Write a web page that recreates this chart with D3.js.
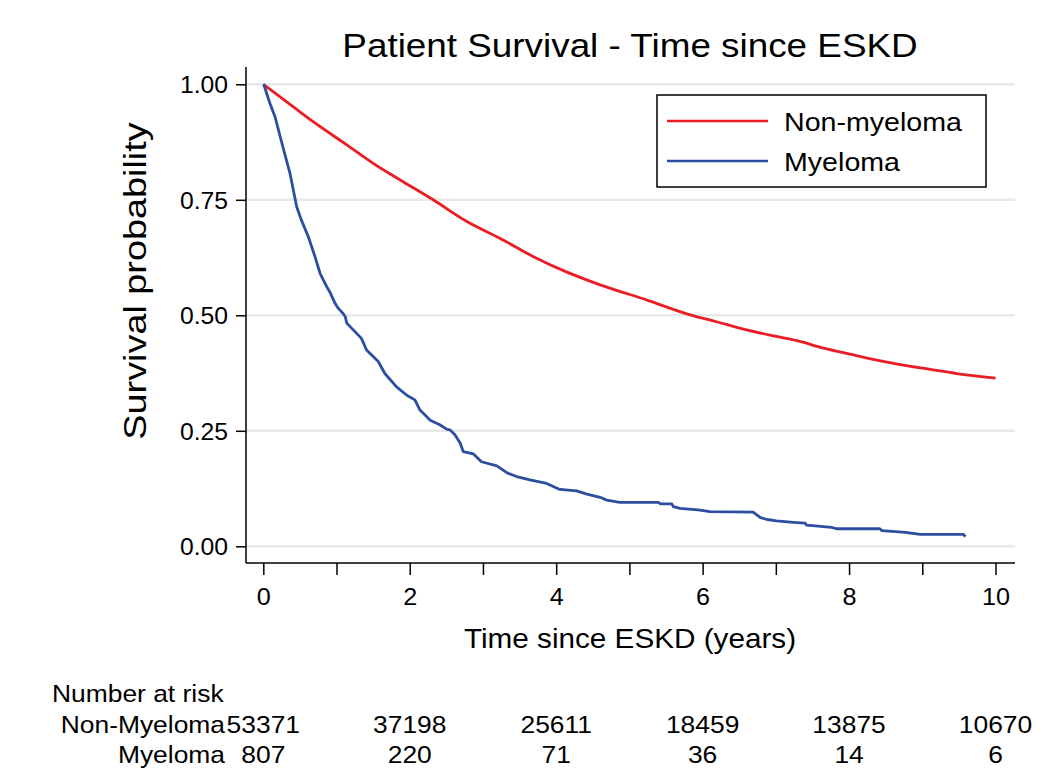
<!DOCTYPE html>
<html>
<head>
<meta charset="utf-8">
<script src="https://cdn.jsdelivr.net/npm/d3@7"></script>
<style>
  body { margin: 0; background: #fff; }
  text { font-family: "Liberation Sans", Arial, sans-serif; fill: #000; }
</style>
</head>
<body>
<div id="chart"></div>
<script>
// survival curves (years, probability)
var redTime = [0, 0.23, 0.68, 1.14, 1.50, 1.87, 2.32, 2.78, 3.23, 3.69, 4.14, 4.60, 5.24, 5.83, 6.19, 6.56, 6.92, 7.29, 7.65, 8.01, 8.38, 8.74, 9.11, 9.47, 10.0];
var redSurv = [1.0, 0.973, 0.919, 0.869, 0.829, 0.793, 0.750, 0.703, 0.667, 0.627, 0.594, 0.566, 0.533, 0.501, 0.486, 0.470, 0.457, 0.445, 0.429, 0.416, 0.403, 0.392, 0.383, 0.374, 0.364];

var blueTime = [0, 0.01, 0.09, 0.16, 0.23, 0.30, 0.365, 0.41, 0.456, 0.52, 0.615, 0.706, 0.775, 0.866, 0.91, 0.98, 1.02, 1.09, 1.12, 1.14, 1.34, 1.41, 1.57, 1.66, 1.82, 1.96, 2.07, 2.14, 2.28, 2.41, 2.51, 2.55, 2.62, 2.69, 2.73, 2.87, 2.98, 3.19, 3.33, 3.46, 3.64, 3.87, 4.05, 4.28, 4.42, 4.60, 4.69, 4.87, 5.40, 5.42, 5.58, 5.60, 5.69, 5.94, 6.10, 6.69, 6.79, 6.88, 7.01, 7.24, 7.40, 7.42, 7.54, 7.76, 7.83, 8.42, 8.45, 8.54, 8.77, 8.97, 9.56, 9.59];
var blueSurv = [1.0, 0.998, 0.959, 0.930, 0.887, 0.845, 0.807, 0.771, 0.735, 0.706, 0.670, 0.627, 0.591, 0.562, 0.550, 0.526, 0.516, 0.504, 0.497, 0.483, 0.450, 0.425, 0.400, 0.374, 0.345, 0.327, 0.317, 0.295, 0.273, 0.263, 0.253, 0.252, 0.241, 0.223, 0.205, 0.200, 0.183, 0.174, 0.159, 0.151, 0.144, 0.136, 0.123, 0.120, 0.113, 0.106, 0.100, 0.095, 0.095, 0.092, 0.092, 0.086, 0.082, 0.079, 0.075, 0.074, 0.062, 0.058, 0.055, 0.052, 0.050, 0.046, 0.044, 0.041, 0.038, 0.038, 0.034, 0.033, 0.030, 0.026, 0.026, 0.021];

var xTicks = [0, 1, 2, 3, 4, 5, 6, 7, 8, 9, 10];
var yTicks = [0, 0.25, 0.5, 0.75, 1];

var seriesNames = ["Non-myeloma", "Myeloma"];
var riskYears = [0, 2, 4, 6, 8, 10];
var riskNonMyeloma = [53371, 37198, 25611, 18459, 13875, 10670];
var riskMyeloma = [807, 220, 71, 36, 14, 6];

var width = 1052, height = 771;
var SX = 1.1; // text in the picture is a bit wider than the font
var red = "#ea1d24", blue = "#2c4ea0";

var svg = d3.select("#chart").append("svg")
    .attr("width", width)
    .attr("height", height);

var plotLeft = 246, plotRight = 1015, plotTop = 67, plotBottom = 563;

var x = d3.scaleLinear().domain([0, 10]).range([263.3, 995.5]);
var y = d3.scaleLinear().domain([0, 1]).range([546.3, 84.3]);

function label(txt, px, py, size, anchor, rot, sx) {
    return svg.append("text")
        .attr("transform", "translate(" + px + "," + py + ")" + (rot ? " rotate(" + rot + ")" : "") + " scale(" + (sx || SX) + ",1)")
        .attr("text-anchor", anchor || "start")
        .style("font-size", size + "px")
        .text(txt);
}

// gridlines
svg.append("g").selectAll("line")
    .data(yTicks)
    .enter().append("line")
    .attr("x1", plotLeft).attr("x2", plotRight)
    .attr("y1", function (d) { return y(d); })
    .attr("y2", function (d) { return y(d); })
    .style("stroke", "#e8e8e8")
    .style("stroke-width", 2.5);

// y axis
var axisY = svg.append("g")
    .attr("transform", "translate(" + plotLeft + ",0)")
    .call(d3.axisLeft(y).tickValues(yTicks).tickSize(10).tickFormat(d3.format(".2f")));
axisY.select(".domain").remove();
axisY.selectAll("line").style("stroke", "#000").style("stroke-width", 1.5);
axisY.selectAll("text")
    .attr("x", null).attr("dy", null)
    .attr("transform", "translate(-18,8.5) scale(1.03,1)")
    .style("font-size", "24px")
    .style("font-family", "Liberation Sans, Arial, sans-serif");

// x axis
var axisX = svg.append("g")
    .attr("transform", "translate(0," + plotBottom + ")")
    .call(d3.axisBottom(x).tickValues(xTicks).tickSize(12)
        .tickFormat(function (d) { return d % 2 === 0 ? d : ""; }));
axisX.select(".domain").remove();
axisX.selectAll("line").style("stroke", "#000").style("stroke-width", 1.5);
axisX.selectAll("text")
    .attr("y", null).attr("dy", null)
    .attr("transform", "translate(0,42) scale(1.05,1)")
    .style("font-size", "24px")
    .style("font-family", "Liberation Sans, Arial, sans-serif");

// axis lines
svg.append("line")
    .attr("x1", plotLeft).attr("x2", plotLeft)
    .attr("y1", plotTop).attr("y2", plotBottom)
    .style("stroke", "#000").style("stroke-width", 1.5);
svg.append("line")
    .attr("x1", plotLeft).attr("x2", plotRight)
    .attr("y1", plotBottom).attr("y2", plotBottom)
    .style("stroke", "#000").style("stroke-width", 1.5);

// curves
var red_pts = redTime.map(function (t, i) { return [t, redSurv[i]]; });
var blue_pts = blueTime.map(function (t, i) { return [t, blueSurv[i]]; });

var line = d3.line()
    .x(function (d) { return x(d[0]); })
    .y(function (d) { return y(d[1]); });

svg.append("path")
    .datum(red_pts)
    .attr("d", line.curve(d3.curveMonotoneX))
    .style("fill", "none").style("stroke", red).style("stroke-width", 2.8);

svg.append("path")
    .datum(blue_pts)
    .attr("d", line.curve(d3.curveLinear))
    .style("fill", "none").style("stroke", blue).style("stroke-width", 2.8)
    .style("stroke-linejoin", "round");

// legend
var leg = svg.append("g");
leg.append("rect")
    .attr("x", 657).attr("y", 95).attr("width", 329).attr("height", 92)
    .style("fill", "#fff").style("stroke", "#000").style("stroke-width", 1.5);
[red, blue].forEach(function (c, i) {
    leg.append("line")
        .attr("x1", 667).attr("x2", 768)
        .attr("y1", 121 + i * 40).attr("y2", 121 + i * 40)
        .style("stroke", c).style("stroke-width", 2.5);
    label(seriesNames[i], 784, 131 + i * 40, 26);
});

// titles
label("Patient Survival - Time since ESKD", 630, 57, 33.5, "middle");
label("Time since ESKD (years)", 630, 648, 27, "middle");
label("Survival probability", 146, 281, 31, "middle", -90, 1.22);

// number at risk table
label("Number at risk", 52, 702, 24);
label("Non-Myeloma", 225, 733, 24, "end");
label("Myeloma", 225, 763, 24, "end");
riskYears.forEach(function (yr, i) {
    label(riskNonMyeloma[i], x(yr), 733, 24, "middle");
    label(riskMyeloma[i], x(yr), 763, 24, "middle");
});
</script>
</body>
</html>
